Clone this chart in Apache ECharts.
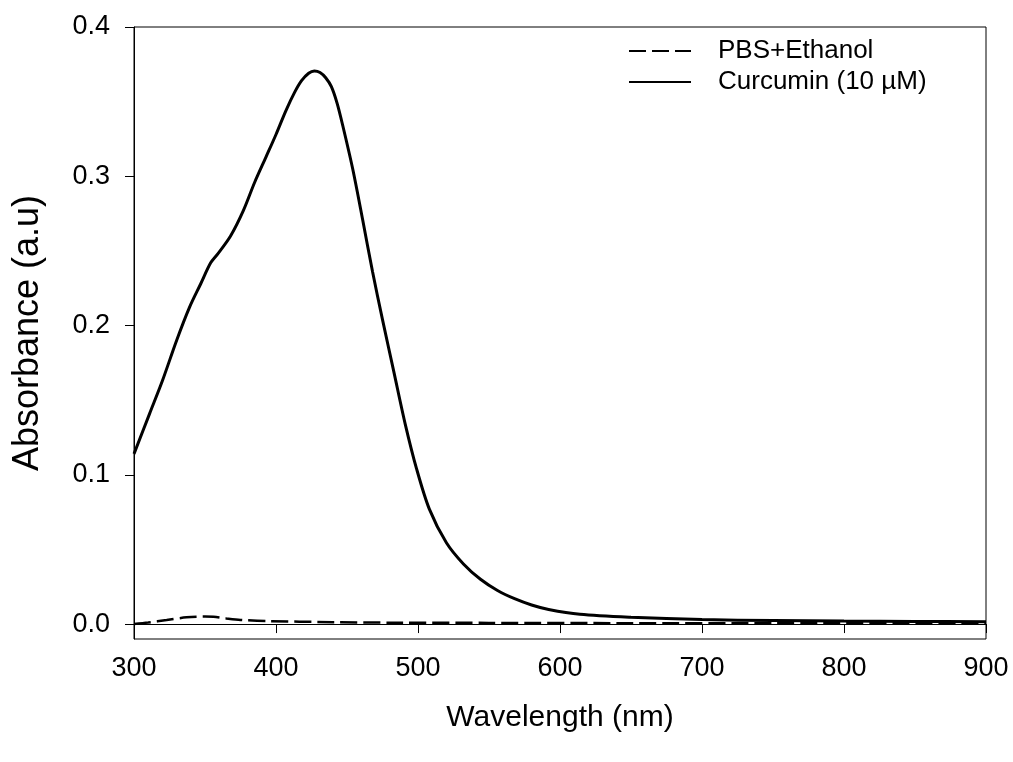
<!DOCTYPE html>
<html>
<head>
<meta charset="utf-8">
<script src="https://cdn.jsdelivr.net/npm/echarts@6/dist/echarts.min.js"></script>
<style>
  html, body { margin: 0; padding: 0; background: #fff; }
  #main { width: 1013px; height: 762px; }
</style>
</head>
<body>
<div id="main"></div>
<script>
// 数据：波长 (nm) 与吸光度
var curcuminWl = [300, 311, 320, 330, 339, 347, 354, 359, 368, 377, 385, 393, 400, 407, 413, 418, 423, 427, 431, 435, 439, 443, 447, 454, 461, 468, 475, 483, 491, 499, 508, 520, 532, 544, 556, 568, 580, 592, 614, 650, 700, 750, 800, 850, 900];
var curcuminAbs = [0.114, 0.141, 0.163, 0.190, 0.212, 0.228, 0.242, 0.248, 0.260, 0.277, 0.296, 0.313, 0.328, 0.344, 0.356, 0.364, 0.369, 0.3705, 0.3695, 0.366, 0.360, 0.349, 0.334, 0.305, 0.271, 0.236, 0.204, 0.169, 0.134, 0.104, 0.077, 0.0545, 0.0403, 0.030, 0.0225, 0.017, 0.0128, 0.0098, 0.0066, 0.0046, 0.0030, 0.0024, 0.0020, 0.0018, 0.0016];

var pbsWl = [300, 310, 323, 337, 350, 356, 365, 375, 393, 440, 487, 550, 650, 750, 900];
var pbsAbs = [0.0, 0.001, 0.0027, 0.0045, 0.005, 0.0049, 0.0038, 0.0028, 0.002, 0.0013, 0.0009, 0.0008, 0.0006, 0.0005, 0.0005];

var yTicks = [0, 0.1, 0.2, 0.3, 0.4];
var seriesNames = ['PBS+Ethanol', 'Curcumin (10 µM)'];

var font = 'Liberation Sans, Arial, sans-serif';
var chart = echarts.init(document.getElementById('main'));

function pairs(xs, ys) {
  return xs.map(function (x, i) { return [x, ys[i]]; });
}

var option = {
  animation: false,
  grid: {
    left: 134, right: 27, top: 27, bottom: 123,
    show: true, borderColor: '#000', borderWidth: 1
  },
  legend: {
    orient: 'vertical',
    left: 623, top: 33,
    itemWidth: 62, itemHeight: 14, itemGap: 5,
    itemStyle: { opacity: 0 },
    textStyle: { fontFamily: font, fontSize: 26, color: '#000', padding: [0, 0, 0, 22] },
    data: seriesNames
  },
  xAxis: {
    type: 'value',
    min: 300, max: 900, interval: 100,
    name: 'Wavelength (nm)',
    nameLocation: 'middle',
    nameGap: 64,
    nameTextStyle: { fontFamily: font, fontSize: 30, color: '#000' },
    axisLine: { lineStyle: { color: '#000', width: 1 } },
    axisTick: { inside: false, length: 9, lineStyle: { color: '#000' } },
    axisLabel: { fontFamily: font, fontSize: 27, color: '#000', margin: 16 },
    splitLine: { show: false }
  },
  yAxis: {
    type: 'value',
    min: -0.01, max: 0.4,
    name: 'Absorbance (a.u)',
    nameLocation: 'middle',
    nameGap: 88,
    nameTextStyle: { fontFamily: font, fontSize: 36, color: '#000' },
    axisLine: { show: true, lineStyle: { color: '#000', width: 1 } },
    axisTick: { show: true, inside: false, length: 9, customValues: yTicks, lineStyle: { color: '#000' } },
    axisLabel: {
      fontFamily: font, fontSize: 27, color: '#000', margin: 24,
      customValues: yTicks,
      formatter: function (v) { return v.toFixed(1); }
    },
    splitLine: { show: false }
  },
  series: [
    {
      name: seriesNames[0],
      type: 'line',
      data: pairs(pbsWl, pbsAbs),
      smooth: 0.3,
      symbol: 'none',
      itemStyle: { color: '#000' },
      lineStyle: { color: '#000', width: 2.5, type: [17, 6] }
    },
    {
      name: seriesNames[1],
      type: 'line',
      data: pairs(curcuminWl, curcuminAbs),
      smooth: 0.3,
      symbol: 'none',
      itemStyle: { color: '#000' },
      lineStyle: { color: '#000', width: 3 }
    }
  ]
};

chart.setOption(option);
</script>
</body>
</html>
